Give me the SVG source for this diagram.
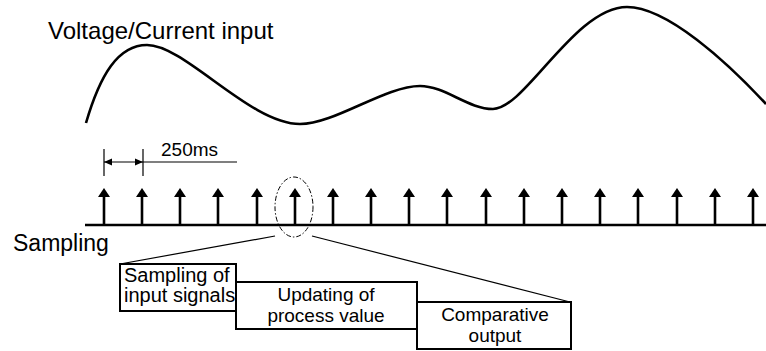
<svg xmlns="http://www.w3.org/2000/svg" width="766" height="351" viewBox="0 0 766 351">
<style>
text{font-family:"Liberation Sans",Arial,sans-serif;fill:#000}
.box{fill:#fff;stroke:#000;stroke-width:2}
.stem{stroke:#000;stroke-width:2.6}
.thin{stroke:#000;stroke-width:1.2;fill:none}
</style>
<defs>
<g id="arrow"><line class="stem" x1="0" y1="225" x2="0" y2="195"/><polygon points="-6,197 6,197 0,188" fill="#000"/></g>
</defs>
<rect width="766" height="351" fill="#fff"/>
<g id="input-label"><text x="48" y="39" font-size="24">Voltage/Current input</text></g>
<g id="waveform"><path d="M86,123 C100,75 118,45 147,45 C185,45 250,124 300,124 C335,124 385,86 420,86 C445,86 468,109 493,109 C525,109 575,7 627,7 C667,7 727,62 766,104" fill="none" stroke="#000" stroke-width="2.6"/></g>
<g id="sampling-label"><text x="13" y="251" font-size="23">Sampling</text></g>
<g id="sampling-axis">
<line x1="85" y1="225" x2="766" y2="225" stroke="#000" stroke-width="2.6"/>
<use href="#arrow" x="104"/><use href="#arrow" x="142"/><use href="#arrow" x="180"/><use href="#arrow" x="218"/><use href="#arrow" x="257"/><use href="#arrow" x="295"/><use href="#arrow" x="333"/><use href="#arrow" x="371"/><use href="#arrow" x="409"/><use href="#arrow" x="447"/><use href="#arrow" x="486"/><use href="#arrow" x="524"/><use href="#arrow" x="562"/><use href="#arrow" x="600"/><use href="#arrow" x="638"/><use href="#arrow" x="677"/><use href="#arrow" x="715"/><use href="#arrow" x="753"/>
</g>
<g id="interval">
<line class="thin" x1="104" y1="149" x2="104" y2="176" stroke-width="1.6"/>
<line class="thin" x1="143" y1="149" x2="143" y2="176" stroke-width="1.6"/>
<line class="thin" x1="104" y1="162" x2="237" y2="162" stroke-width="1"/>
<polygon points="104,162 112,158.5 112,165.5" fill="#000"/>
<polygon points="143,162 135,158.5 135,165.5" fill="#000"/>
<text x="161" y="156" font-size="19">250ms</text>
</g>
<g id="connectors">
<ellipse cx="294" cy="207" rx="19" ry="30" fill="none" stroke="#000" stroke-width="1" stroke-dasharray="5,2,1.5,2"/>
<line class="thin" x1="275" y1="236" x2="120" y2="264"/>
<line class="thin" x1="312" y1="236" x2="570" y2="302"/>
</g>
<g id="box-sampling"><rect class="box" x="120" y="264" width="116" height="47"/>
<text x="124" y="282" font-size="20">Sampling of</text><text x="124" y="302" font-size="20">input signals</text></g>
<g id="box-updating"><rect class="box" x="236" y="282" width="181" height="47"/>
<text x="326" y="301" font-size="19" text-anchor="middle">Updating of</text><text x="326" y="322" font-size="19" text-anchor="middle">process value</text></g>
<g id="box-output"><rect class="box" x="417" y="302" width="154" height="47"/>
<text x="495" y="321" font-size="19" text-anchor="middle">Comparative</text><text x="495" y="342" font-size="19" text-anchor="middle">output</text></g>
</svg>
